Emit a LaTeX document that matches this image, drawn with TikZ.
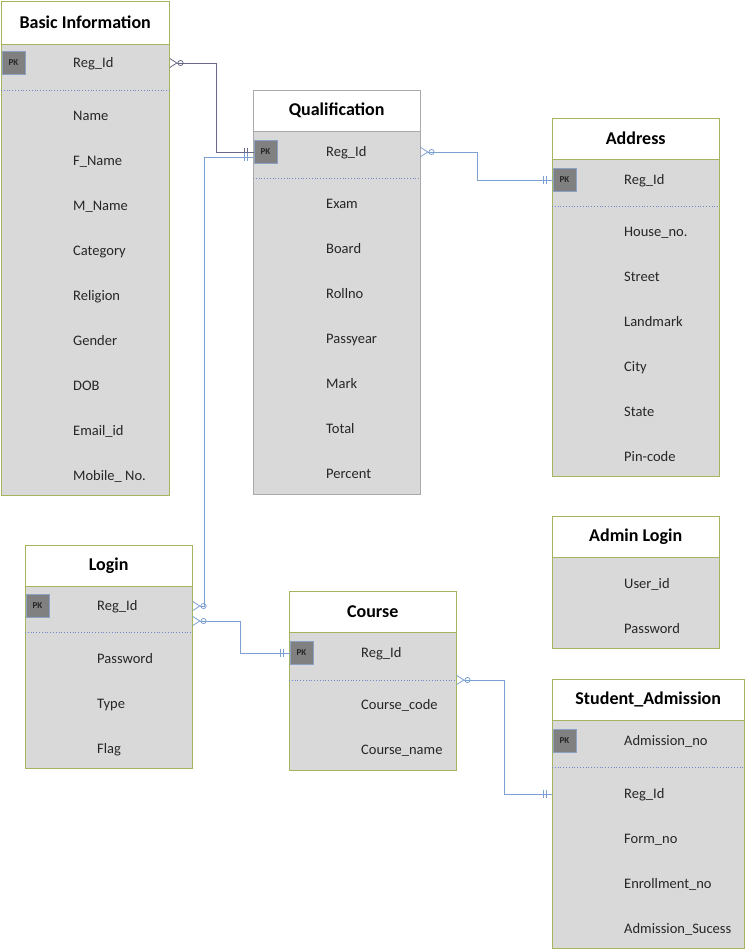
\documentclass[tikz,border=0pt]{standalone}
\usepackage{fontspec}
\setmainfont{Carlito}
\usetikzlibrary{arrows.meta,decorations.markings}

\definecolor{tblfill}{RGB}{217,217,217}
\definecolor{tbledge}{RGB}{165,180,95}
\definecolor{qedge}{RGB}{170,170,170}
\definecolor{pkfill}{RGB}{128,128,128}
\definecolor{pkedge}{RGB}{140,160,195}
\definecolor{keydots}{RGB}{110,140,200}
\definecolor{linkblue}{RGB}{125,160,210}
\definecolor{linkgray}{RGB}{105,105,135}

\begin{document}
\begin{tikzpicture}[x=1pt,y=-1pt,
      head/.style={draw=tbledge,fill=white,anchor=north west,inner sep=0pt,minimum height=41pt,font=\fontsize{18}{21}\selectfont\bfseries},
      body/.style={draw=tbledge,fill=tblfill,anchor=north west,inner sep=0pt},
      pk/.style={draw=pkedge,fill=pkfill,line width=0.8pt,minimum size=23pt,inner sep=0pt,font=\fontsize{9}{10}\selectfont\bfseries,text=black!85},
      field/.style={anchor=mid west,yshift=-2.5pt,inner sep=0pt,font=\fontsize{14.5}{16}\selectfont,text=black!85},
      keyline/.style={draw=keydots,line width=0.8pt,dotted},
      link/.style={draw=#1,line width=0.8pt,
        {Straight Barb[reversed,length=7pt,width=9pt]Circle[open,length=6pt,width=6pt]}-,
        postaction={decorate,decoration={markings,
          mark=at position -6pt with {\draw[#1,line width=0.8pt,-] (0pt,-4pt) -- (0pt,4pt);},
          mark=at position -9pt with {\draw[#1,line width=0.8pt,-] (0pt,-4pt) -- (0pt,4pt);}}}}
]
\useasboundingbox (0,0) rectangle (745,950);

% Basic Information
\node[body,minimum width=168pt,minimum height=451pt] (bibody) at (1,44) {};
\node[head,minimum width=168pt,minimum height=43pt] (bihead) at (1,1) {Basic Information};
\node[pk] (bipk) at (13.5,63) {PK};
\node[field] (bireg) at (73,63) {Reg\_Id};
\draw[keyline] (bibody.west |- 0,90) -- (bibody.east |- 0,90);
\foreach \t [count=\i] in {Name,F\_Name,M\_Name,Category,Religion,Gender,DOB,Email\_id,Mobile\_ No.}
  \node[field] (bi\i) at (73,71+45*\i) {\t};

% Qualification
\node[body,draw=qedge,minimum width=167pt,minimum height=363pt] (qbody) at (253,131) {};
\node[head,draw=qedge,minimum width=167pt] (qhead) at (253,90) {Qualification};
\node[pk] (qpk) at (265.5,152) {PK};
\node[field] (qreg) at (326,152) {Reg\_Id};
\draw[keyline] (qbody.west |- 0,178) -- (qbody.east |- 0,178);
\foreach \t [count=\i] in {Exam,Board,Rollno,Passyear,Mark,Total,Percent}
  \node[field] (q\i) at (326,159+45*\i) {\t};

% Address
\node[body,minimum width=167pt,minimum height=317pt] (abody) at (552,159) {};
\node[head,minimum width=167pt] (ahead) at (552,118) {Address};
\node[pk] (apk) at (564.5,180) {PK};
\node[field] (areg) at (624,180) {Reg\_Id};
\draw[keyline] (abody.west |- 0,206) -- (abody.east |- 0,206);
\foreach \t [count=\i] in {House\_no.,Street,Landmark,City,State,Pin-code}
  \node[field] (a\i) at (624,187+45*\i) {\t};

% Admin Login
\node[body,minimum width=167pt,minimum height=91pt] (albody) at (552,557) {};
\node[head,minimum width=167pt] (alhead) at (552,516) {Admin Login};
\foreach \t [count=\i] in {User\_id,Password}
  \node[field] (al\i) at (624,539+45*\i) {\t};

% Login
\node[body,minimum width=167pt,minimum height=182pt] (lbody) at (25,586) {};
\node[head,minimum width=167pt] (lhead) at (25,545) {Login};
\node[pk] (lpk) at (37.5,606) {PK};
\node[field] (lreg) at (97,606) {Reg\_Id};
\draw[keyline] (lbody.west |- 0,632) -- (lbody.east |- 0,632);
\foreach \t [count=\i] in {Password,Type,Flag}
  \node[field] (l\i) at (97,614+45*\i) {\t};

% Course
\node[body,minimum width=167pt,minimum height=138pt] (cbody) at (289,632) {};
\node[head,minimum width=167pt] (chead) at (289,591) {Course};
\node[pk] (cpk) at (301.5,653) {PK};
\node[field] (creg) at (361,653) {Reg\_Id};
\draw[keyline] (cbody.west |- 0,680) -- (cbody.east |- 0,680);
\foreach \t [count=\i] in {Course\_code,Course\_name}
  \node[field] (c\i) at (361,660+45*\i) {\t};

% Student_Admission
\node[body,minimum width=192pt,minimum height=228pt] (sbody) at (552,720) {};
\node[head,minimum width=192pt] (shead) at (552,679) {Student\_Admission};
\node[pk] (spk) at (564.5,741) {PK};
\node[field] (sadm) at (624,741) {Admission\_no};
\draw[keyline] (sbody.west |- 0,767) -- (sbody.east |- 0,767);
\foreach \t [count=\i] in {Reg\_Id,Form\_no,Enrollment\_no,Admission\_Sucess}
  \node[field] (s\i) at (624,749+45*\i) {\t};

% relations
\coordinate (qin) at (qbody.west |- 0,157);
\coordinate (lout) at (lbody.east |- 0,621);
\coordinate (cout) at (cbody.east |- 0,680);
\coordinate (sin) at (sbody.west |- 0,794);
\draw[link=linkgray] (bibody.east |- bipk) -- ++(47,0) |- (qpk.west);
\draw[link=linkblue] (qbody.east |- qpk) -- ++(57,0) |- (apk.west);
\draw[link=linkblue] (lbody.east |- lpk) -- ++(12,0) |- (qin);
\draw[link=linkblue] (lout) -- ++(48,0) |- (cpk.west);
\draw[link=linkblue] (cout) -- ++(48,0) |- (sin);
\end{tikzpicture}
\end{document}
